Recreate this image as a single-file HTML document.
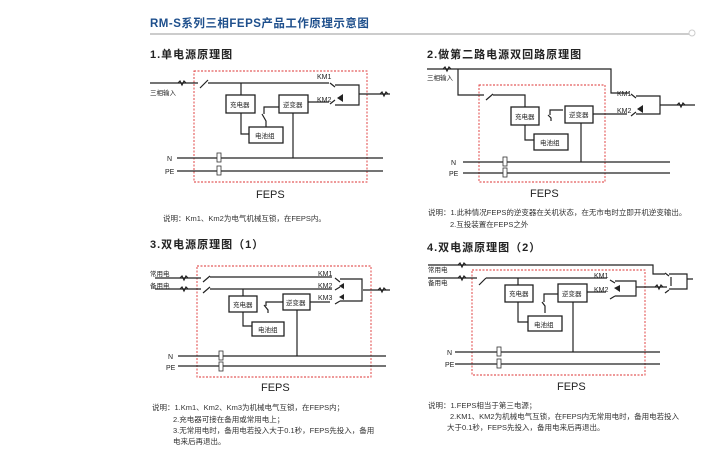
<!DOCTYPE html>
<html><head><meta charset="utf-8"><style>
body{margin:0;background:#fff;}
svg{display:block;font-family:"Liberation Sans","Noto Sans CJK SC",sans-serif;}
.l{stroke:#222;stroke-width:1.2;fill:none}
.b{stroke:#222;stroke-width:1.3;fill:#fff}
.d{stroke:#d33;stroke-width:0.9;fill:none;stroke-dasharray:2 1.5}
.t{font-size:7px;fill:#222}
.s{font-size:6.5px;fill:#222}
.h{font-size:11px;fill:#222;font-weight:bold;letter-spacing:1px}
.f{font-size:11px;fill:#222}
.n{font-size:7.5px;fill:#333}
.fu{fill:#fff;stroke:#333;stroke-width:0.8}
</style></head><body>
<svg width="720" height="450" viewBox="0 0 720 450">
<text x="150" y="27" font-size="11.5" font-weight="bold" fill="#1e4f8c" letter-spacing="0.5">RM-S系列三相FEPS产品工作原理示意图</text>
<line x1="150" y1="34" x2="689" y2="34" stroke="#ccc" stroke-width="2"/>
<circle cx="692" cy="33" r="3" fill="#fff" stroke="#ccc"/>

<!-- Diagram 1 -->
<text class="h" x="150" y="58">1.单电源原理图</text>
<rect class="d" x="194" y="71" width="173" height="111"/>
<path class="l" d="M150 83H198 M200 88L208 80 M208 83H329 M241 83V95 M241 113V134H249 M266 127V121L262 114 M264 114V107H279 M308 102H329 M293 113V158 M177 158H383 M177 171H383 M359 94H390"/>
<path class="l" d="M178 83l2-2 2 4 2-4 2 2" />
<path class="l" d="M380 94l2-2 2 4 2-4 2 2"/>
<rect class="b" x="226" y="95" width="29" height="18"/><text class="s" x="230" y="107">充电器</text>
<rect class="b" x="279" y="95" width="29" height="18"/><text class="s" x="283" y="107">逆变器</text>
<rect class="b" x="249" y="127" width="34" height="16"/><text class="s" x="255" y="138">电池组</text>
<text class="t" x="317" y="79">KM1</text><text class="t" x="317" y="102">KM2</text>
<path class="l" d="M330 83l5 4 M330 104l5-4 M335 85H359V105H335"/>
<path d="M337 98l6-4v8z" fill="#222"/>
<text class="s" x="150" y="95">三相输入</text>
<text class="t" x="167" y="161">N</text><text class="t" x="165" y="174">PE</text>
<rect class="fu" x="217" y="153" width="4" height="9"/><rect class="fu" x="217" y="166" width="4" height="9"/>
<text class="f" x="256" y="198">FEPS</text>
<text class="n" x="163" y="221">说明：Km1、Km2为电气机械互锁，在FEPS内。</text>

<!-- Diagram 2 -->
<text class="h" x="427" y="58">2.做第二路电源双回路原理图</text>
<rect class="d" x="479" y="85" width="126" height="97"/>
<path class="l" d="M427 69H611V93H629 M458 69V95H484 M486 100L493 94 M493 95H525V108 M525 125V140H534 M551 121V118L548 115 M550 115V110H563 M593 114H627 M581 123V162 M463 162H670 M463 173H670 M660 105H695"/>
<path class="l" d="M443 69l2-2 2 4 2-4 2 2 M677 105l2-2 2 4 2-4 2 2"/>
<rect class="b" x="511" y="107" width="28" height="18"/><text class="s" x="515" y="119">充电器</text>
<rect class="b" x="565" y="106" width="28" height="17"/><text class="s" x="569" y="117">逆变器</text>
<rect class="b" x="534" y="134" width="34" height="16"/><text class="s" x="540" y="145">电池组</text>
<text class="t" x="617" y="96">KM1</text><text class="t" x="617" y="113">KM2</text>
<path class="l" d="M631 94l5 4 M631 116l5-4 M636 96H660V114H636"/>
<path d="M637 109l6-4v8z" fill="#222"/>
<text class="s" x="427" y="80">三相输入</text>
<text class="t" x="451" y="165">N</text><text class="t" x="449" y="176">PE</text>
<rect class="fu" x="503" y="157" width="4" height="9"/><rect class="fu" x="503" y="168" width="4" height="9"/>
<text class="f" x="530" y="197">FEPS</text>
<text class="n" x="428" y="215">说明：1.此种情况FEPS的逆变器在关机状态，在无市电时立即开机逆变输出。</text>
<text class="n" x="450" y="227">2.互投装置在FEPS之外</text>

<!-- Diagram 3 -->
<text class="h" x="150" y="248">3.双电源原理图（1）</text>
<rect class="d" x="197" y="266" width="174" height="111"/>
<path class="l" d="M155 278H201 M203 282L210 276 M210 277H332 M155 289H201 M203 293L210 287 M210 289H332 M243 289V296 M243 309V326H252 M268 313V310L264 305 M266 306V302H283 M310 302H330 M297 310V356 M178 356H386 M178 366H386 M363 290H390"/>
<path class="l" d="M180 278l2-2 2 4 2-4 2 2 M180 289l2-2 2 4 2-4 2 2 M378 290l2-2 2 4 2-4 2 2"/>
<rect class="b" x="229" y="296" width="28" height="16"/><text class="s" x="233" y="307">充电器</text>
<rect class="b" x="283" y="294" width="27" height="16"/><text class="s" x="286" y="305">逆变器</text>
<rect class="b" x="252" y="322" width="32" height="14"/><text class="s" x="258" y="332">电池组</text>
<text class="t" x="318" y="276">KM1</text><text class="t" x="318" y="288">KM2</text><text class="t" x="318" y="300">KM3</text>
<path class="l" d="M335 278l5 4 M335 290l5-3 M335 304l5-3 M340 279H362V301H340"/>
<path d="M339 286l5-3v6z M339 297l5-3v6z" fill="#222"/>
<text class="s" x="150" y="276">常用电</text><text class="s" x="150" y="288">备用电</text>
<text class="t" x="168" y="359">N</text><text class="t" x="166" y="370">PE</text>
<rect class="fu" x="219" y="351" width="4" height="9"/><rect class="fu" x="219" y="362" width="4" height="9"/>
<text class="f" x="261" y="391">FEPS</text>
<text class="n" x="152" y="410">说明：1.Km1、Km2、Km3为机械电气互锁，在FEPS内；</text>
<text class="n" x="173" y="422">2.充电器可接在备用或常用电上；</text>
<text class="n" x="173" y="433">3.无常用电时，备用电若投入大于0.1秒，FEPS先投入，备用</text>
<text class="n" x="173" y="444">电来后再退出。</text>

<!-- Diagram 4 -->
<text class="h" x="427" y="251">4.双电源原理图（2）</text>
<rect class="d" x="472" y="270" width="173" height="105"/>
<path class="l" d="M428 265H653V274H665 M428 278H477 M479 285L486 278 M486 278H607 M518 278V285 M518 302V322H528 M545 313V306L542 302 M544 302V294H558 M587 292H606 M573 302V352 M455 352H660 M455 364H660 M636 287H667 M687 279H693"/>
<path class="l" d="M458 265l2-2 2 4 2-4 2 2 M458 278l2-2 2 4 2-4 2 2 M655 287l2-2 2 4 2-4 2 2"/>
<rect class="b" x="505" y="285" width="28" height="17"/><text class="s" x="509" y="296">充电器</text>
<rect class="b" x="558" y="284" width="29" height="18"/><text class="s" x="562" y="296">逆变器</text>
<rect class="b" x="528" y="316" width="34" height="15"/><text class="s" x="534" y="327">电池组</text>
<text class="t" x="594" y="278">KM1</text><text class="t" x="594" y="292">KM2</text>
<path class="l" d="M610 280l5 3 M610 299l5-3 M615 281H636V296H615"/>
<path d="M614 288l6-3v7z" fill="#222"/>
<path class="l" d="M665 273l4 3 M665 293l4-3 M669 274H687V289H669 M671 277V286"/>
<text class="s" x="428" y="272">常用电</text><text class="s" x="428" y="285">备用电</text>
<text class="t" x="447" y="355">N</text><text class="t" x="445" y="367">PE</text>
<rect class="fu" x="497" y="347" width="4" height="9"/><rect class="fu" x="497" y="359" width="4" height="9"/>
<text class="f" x="557" y="390">FEPS</text>
<text class="n" x="428" y="408">说明：1.FEPS相当于第三电源；</text>
<text class="n" x="450" y="419">2.KM1、KM2为机械电气互锁，在FEPS内无常用电时，备用电若投入</text>
<text class="n" x="447" y="430">大于0.1秒，FEPS先投入，备用电来后再退出。</text>
</svg>
</body></html>
